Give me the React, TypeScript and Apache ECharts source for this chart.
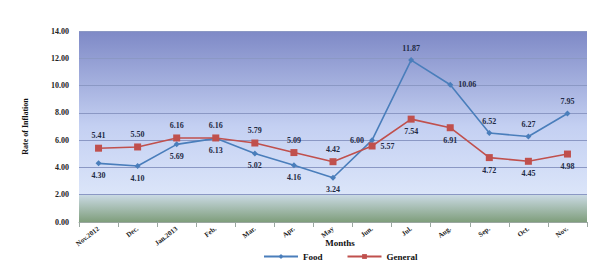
import React, { useEffect, useRef } from "react";
import * as echarts from "echarts";

const months = ["Nov.2012", "Dec.", "Jan.2013", "Feb.", "Mar.", "Apr.", "May", "Jun.", "Jul.", "Aug.", "Sep.", "Oct.", "Nov."];
const food = [4.3, 4.1, 5.69, 6.13, 5.02, 4.16, 3.24, 6.0, 11.87, 10.06, 6.52, 6.27, 7.95];
const general = [5.41, 5.5, 6.16, 6.16, 5.79, 5.09, 4.42, 5.57, 7.54, 6.91, 4.72, 4.45, 4.98];
const foodLabelPos = ["bottom", "bottom", "bottom", "bottom", "bottom", "bottom", "bottom", "left", "top", "right", "top", "top", "top"];
const generalLabelPos = ["top", "top", "top", "top", "top", "top", "top", "right", "bottom", "bottom", "bottom", "bottom", "bottom"];

const FONT = "Liberation Serif";

export default function App() {
  const ref = useRef<HTMLDivElement>(null);
  useEffect(() => {
    if (!ref.current) return;
    const chart = echarts.init(ref.current, null, { renderer: "svg" });
    const lbl = { fontFamily: FONT, fontWeight: "bold", fontSize: 8, color: "#1f2a44" };
    chart.setOption({
      animation: false,
      backgroundColor: "#ffffff",
      grid: {
        left: 79, right: 13, top: 31, bottom: 49,
        show: true,
        borderWidth: 0,
        backgroundColor: new echarts.graphic.LinearGradient(0, 0, 0, 1, [
          { offset: 0, color: "#7e89c6" },
          { offset: 0.5, color: "#c4d0f2" },
          { offset: 0.855, color: "#dbe5f9" },
          { offset: 0.86, color: "#c9d9e2" },
          { offset: 1, color: "#7f9e7c" },
        ]),
      },
      legend: {
        top: 247,
        left: 258,
        itemWidth: 34,
        itemHeight: 6,
        itemGap: 24,
        textStyle: { fontFamily: FONT, fontWeight: "bold", fontSize: 9, color: "#111" },
        data: ["Food", "General"],
      },
      xAxis: {
        type: "category",
        data: months,
        boundaryGap: true,
        name: "Months",
        nameLocation: "middle",
        nameGap: 16,
        nameMoveOverlap: false,
        nameTextStyle: { fontFamily: FONT, fontWeight: "bold", fontSize: 9, color: "#111", padding: [0, 0, 0, 14] },
        axisLine: { show: true, lineStyle: { color: "#9aa7a0" } },
        axisTick: { show: true, alignWithLabel: false, lineStyle: { color: "#9aa7a0" } },
        axisLabel: { rotate: 38, fontFamily: FONT, fontWeight: "bold", fontSize: 7, color: "#222", margin: 6 },
        splitLine: { show: false },
      },
      yAxis: {
        type: "value",
        min: 0,
        max: 14,
        interval: 2,
        name: "Rate of Inflation",
        nameLocation: "middle",
        nameRotate: 90,
        nameGap: 50,
        nameMoveOverlap: false,
        nameTextStyle: { fontFamily: FONT, fontWeight: "bold", fontSize: 8, color: "#111" },
        axisLine: { show: false },
        axisTick: { show: false },
        axisLabel: {
          fontFamily: FONT, fontWeight: "bold", fontSize: 8, color: "#222", margin: 10,
          formatter: (v: number) => v.toFixed(2),
        },
        splitLine: { show: true, lineStyle: { color: "#8b98c4", width: 1 } },
      },
      series: [
        {
          name: "Food",
          type: "line",
          data: food.map((v, i) => ({ value: v, label: { position: foodLabelPos[i] } })),
          symbol: "diamond",
          symbolSize: 6,
          lineStyle: { color: "#4a7ebb", width: 1.6 },
          itemStyle: { color: "#4a7ebb" },
          label: { show: true, ...lbl, distance: 5, formatter: (p: any) => p.value.toFixed(2) },
        },
        {
          name: "General",
          type: "line",
          data: general.map((v, i) => ({ value: v, label: { position: generalLabelPos[i] } })),
          symbol: "rect",
          symbolSize: 7,
          lineStyle: { color: "#c0504d", width: 1.6 },
          itemStyle: { color: "#c0504d" },
          label: { show: true, ...lbl, distance: 5, formatter: (p: any) => p.value.toFixed(2) },
        },
      ],
    });
    return () => chart.dispose();
  }, []);
  return <div ref={ref} style={{ width: 600, height: 271, position: "absolute", left: 0, top: 0 }} />;
}
